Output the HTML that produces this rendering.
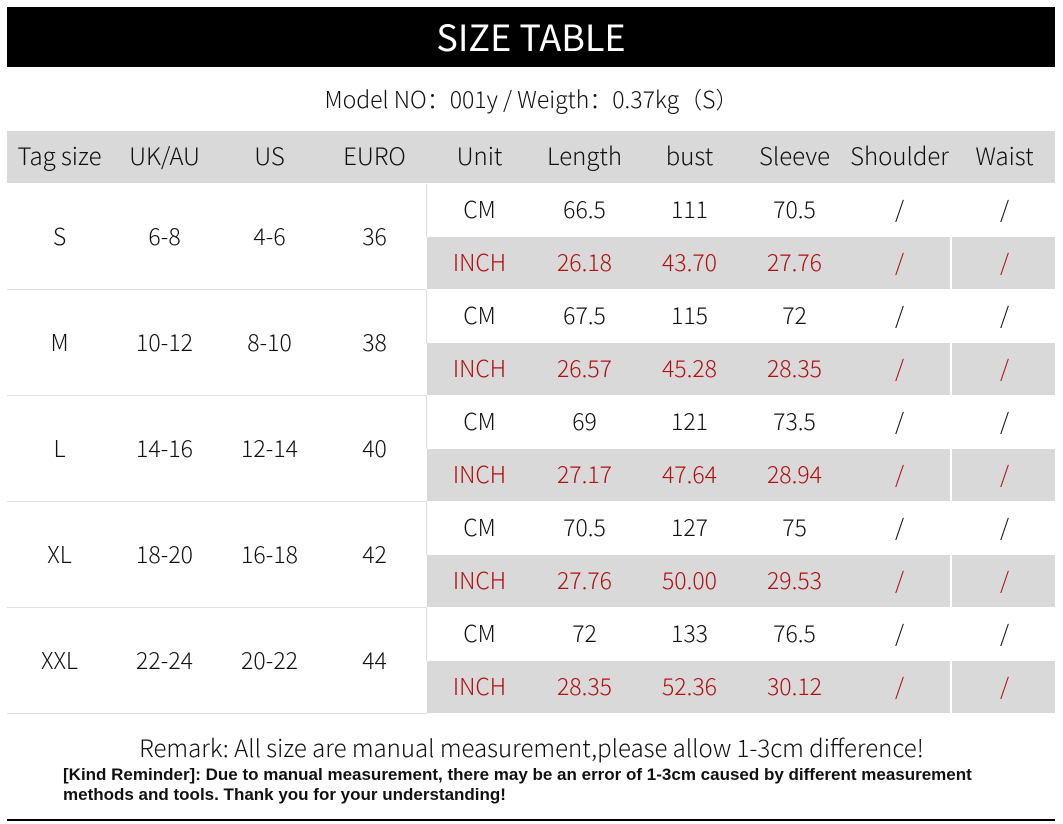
<!DOCTYPE html>
<html><head><meta charset="utf-8"><style>
body{margin:0;width:1063px;height:824px;background:#fff;position:relative;overflow:hidden;font-family:"Noto Sans CJK SC","Liberation Sans",sans-serif;font-weight:300;color:#111}
.a{position:absolute}
.t{position:absolute;width:105px;text-align:center;font-size:23px;line-height:48px}
.r{color:#b01010}
</style></head><body>
<div class="a" style="left:7px;top:7px;width:1048px;height:60px;background:#000;color:#fff;font-size:36px;line-height:58px;text-align:center;font-weight:400">SIZE TABLE</div>
<div class="a" style="left:0;top:80px;width:1063px;text-align:center;font-size:23px;line-height:36px">Model NO：001y / Weigth：0.37kg（S）</div>
<div class="a" style="left:7px;top:131px;width:1048px;height:52px;background:#d9d9d9"></div>
<div id="g"></div>
<div class="a" style="left:0;top:728px;width:1063px;text-align:center;font-size:24px;line-height:38px">Remark: All size are manual measurement,please allow 1-3cm difference!</div>
<div class="a" style="left:63px;top:765px;font-size:17px;line-height:20px;font-weight:700;color:#111;font-family:'Liberation Sans',sans-serif;white-space:nowrap">[Kind Reminder]: Due to manual measurement, there may be an error of 1-3cm caused by different measurement<br>methods and tools. Thank you for your understanding!</div>
<div class="a" style="left:7px;top:819px;width:1048px;height:2px;background:#000"></div>
<script>
var h=['Tag size','UK/AU','US','EURO','Unit','Length','bust','Sleeve','Shoulder','Waist'];
var d=[['S','6-8','4-6','36','66.5','111','70.5','26.18','43.70','27.76'],
['M','10-12','8-10','38','67.5','115','72','26.57','45.28','28.35'],
['L','14-16','12-14','40','69','121','73.5','27.17','47.64','28.94'],
['XL','18-20','16-18','42','70.5','127','75','27.76','50.00','29.53'],
['XXL','22-24','20-22','44','72','133','76.5','28.35','52.36','30.12']];
var s='';
h.forEach(function(x,i){s+='<div class="t" style="left:'+(7+105*i)+'px;top:131px;font-size:24px">'+x+'</div>';});
d.forEach(function(r,k){var y=184+106*k;
s+='<div class="a" style="left:427px;top:'+(y+53)+'px;width:523px;height:52px;background:#d9d9d9"></div>';
s+='<div class="a" style="left:952px;top:'+(y+53)+'px;width:103px;height:52px;background:#d9d9d9"></div>';
s+='<div class="a" style="left:426px;top:'+y+'px;width:1px;height:53px;background:#ddd"></div>';
s+='<div class="a" style="left:7px;top:'+(y+105)+'px;width:420px;height:1px;background:#e2e2e2"></div>';
for(var i=0;i<4;i++)s+='<div class="t" style="left:'+(7+105*i)+'px;top:'+(y+27)+'px">'+r[i]+'</div>';
var cm=['CM',r[4],r[5],r[6],'/','/'],inch=['INCH',r[7],r[8],r[9],'/','/'];
for(var j=0;j<6;j++){s+='<div class="t" style="left:'+(427+105*j)+'px;top:'+y+'px">'+cm[j]+'</div>';
s+='<div class="t r" style="left:'+(427+105*j)+'px;top:'+(y+53)+'px">'+inch[j]+'</div>';}
});
document.getElementById('g').outerHTML=s;
</script>
</body></html>
